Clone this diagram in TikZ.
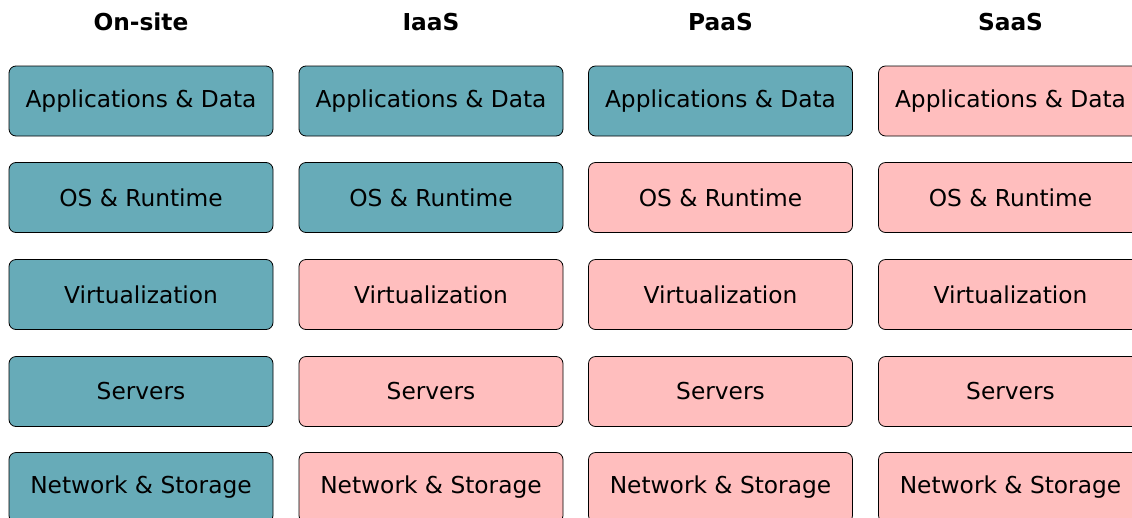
\documentclass[tikz,border=0pt]{standalone}
\usepackage{fontspec}
\setmainfont{DejaVu Sans}
\definecolor{tealbox}{RGB}{103,171,184}
\definecolor{pinkbox}{RGB}{255,190,190}
\tikzset{
  layer/.style={draw=black, line width=0.8pt, rounded corners=7pt, minimum width=264pt, minimum height=70pt, inner sep=0pt,
    font=\fontsize{23.3}{28}\selectfont},
  own/.style={layer, fill=tealbox},
  prov/.style={layer, fill=pinkbox},
  head/.style={anchor=base, font=\fontsize{23.3}{28}\selectfont\bfseries}
}
\begin{document}
\begin{tikzpicture}[x=1pt,y=-1pt]
\useasboundingbox (0,0) rectangle (1132,517);
\clip (0,0) rectangle (1132,517);
\fill[white] (0,0) rectangle (1132,517);
% headers
\node[head] (h1) at (141,30) {On-site};
\node[head] (h2) at (431,30) {IaaS};
\node[head] (h3) at (720.5,30) {PaaS};
\node[head] (h4) at (1010.5,30) {SaaS};
% column 1
\node[own] (a1) at (141,101) {Applications \& Data};
\node[own] (b1) at (141,197.5) {OS \& Runtime};
\node[own] (c1) at (141,294.5) {Virtualization};
\node[own] (d1) at (141,391.5) {Servers};
\node[own] (e1) at (141,487.5) {Network \& Storage};
% column 2
\node[own] (a2) at (431,101) {Applications \& Data};
\node[own] (b2) at (431,197.5) {OS \& Runtime};
\node[prov] (c2) at (431,294.5) {Virtualization};
\node[prov] (d2) at (431,391.5) {Servers};
\node[prov] (e2) at (431,487.5) {Network \& Storage};
% column 3
\node[own] (a3) at (720.5,101) {Applications \& Data};
\node[prov] (b3) at (720.5,197.5) {OS \& Runtime};
\node[prov] (c3) at (720.5,294.5) {Virtualization};
\node[prov] (d3) at (720.5,391.5) {Servers};
\node[prov] (e3) at (720.5,487.5) {Network \& Storage};
% column 4
\node[prov] (a4) at (1010.5,101) {Applications \& Data};
\node[prov] (b4) at (1010.5,197.5) {OS \& Runtime};
\node[prov] (c4) at (1010.5,294.5) {Virtualization};
\node[prov] (d4) at (1010.5,391.5) {Servers};
\node[prov] (e4) at (1010.5,487.5) {Network \& Storage};
\end{tikzpicture}
\end{document}
